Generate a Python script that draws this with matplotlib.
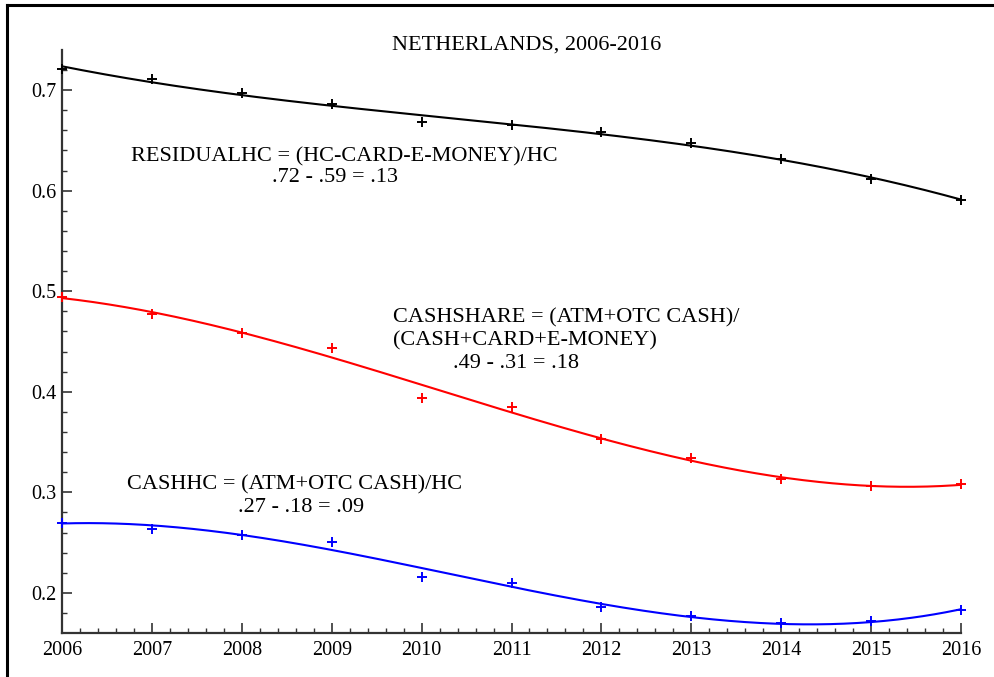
import numpy as np
import matplotlib.pyplot as plt
from matplotlib.lines import Line2D
from matplotlib.ticker import MultipleLocator, FormatStrFormatter

plt.rcParams.update({
    'font.family': ['Liberation Serif', 'DejaVu Serif'],
    'font.size': 15,
})

# Data
years = [2006, 2007, 2008, 2009, 2010, 2011, 2012, 2013, 2014, 2015, 2016]
residual_hc = [0.721, 0.711, 0.697, 0.686, 0.668, 0.665, 0.658, 0.647, 0.631, 0.612, 0.591]
cash_share = [0.494, 0.477, 0.458, 0.444, 0.394, 0.385, 0.353, 0.334, 0.313, 0.306, 0.308]
cash_hc = [0.270, 0.264, 0.258, 0.251, 0.216, 0.210, 0.186, 0.177, 0.170, 0.172, 0.183]

series = [
    (residual_hc, 'black'),
    (cash_share, '#ff0000'),
    (cash_hc, '#0000ff'),
]

fig = plt.figure(figsize=(9.94, 6.77), dpi=100)
ax = fig.add_axes([62 / 994, 44 / 677, (961 - 62) / 994, (633 - 50) / 677])

x = np.array(years, dtype=float)
xs = np.linspace(x[0], x[-1], 400)
for vals, col in series:
    # cubic least-squares fit, as in the original figure
    coef = np.polyfit(x - 2011, vals, 3)
    ax.plot(xs, np.polyval(coef, xs - 2011), color=col, lw=1.5, zorder=2)
    ax.plot(x, vals, '+', color=col, ms=6.5, mew=1.4, zorder=3, clip_on=False)

ax.set_xlim(2006, 2016)
ax.set_ylim(0.1602, 0.7398)

ax.xaxis.set_major_locator(MultipleLocator(1))
ax.xaxis.set_minor_locator(MultipleLocator(0.2))
ax.yaxis.set_major_locator(MultipleLocator(0.1))
ax.yaxis.set_minor_locator(MultipleLocator(0.02))
ax.yaxis.set_major_formatter(FormatStrFormatter('%.1f'))

ax.tick_params(which='both', direction='in', color='#333333', labelsize=14.5)
ax.tick_params(which='major', length=7, width=1.2)
ax.tick_params(which='minor', length=3.5, width=1.0)
ax.tick_params(axis='x', pad=6)
ax.tick_params(axis='y', pad=4)

for side in ['top', 'right']:
    ax.spines[side].set_visible(False)
for side in ['left', 'bottom']:
    ax.spines[side].set_linewidth(1.6)
    ax.spines[side].set_color('#333333')

fs = 16
fig.text(527 / 994, 1 - 45 / 677, 'NETHERLANDS, 2006-2016', ha='center', va='center', fontsize=fs)

fig.text(344 / 994, 1 - 157 / 677, 'RESIDUALHC = (HC-CARD-E-MONEY)/HC', ha='center', va='center', fontsize=fs)
fig.text(335 / 994, 1 - 178 / 677, '.72 - .59 = .13', ha='center', va='center', fontsize=fs)

fig.text(393 / 994, 1 - 318 / 677, 'CASHSHARE = (ATM+OTC CASH)/', ha='left', va='center', fontsize=fs)
fig.text(393 / 994, 1 - 341 / 677, '(CASH+CARD+E-MONEY)', ha='left', va='center', fontsize=fs)
fig.text(453 / 994, 1 - 364 / 677, '.49 - .31 = .18', ha='left', va='center', fontsize=fs)

fig.text(295 / 994, 1 - 485 / 677, 'CASHHC = (ATM+OTC CASH)/HC', ha='center', va='center', fontsize=fs)
fig.text(301 / 994, 1 - 507 / 677, '.27 - .18 = .09', ha='center', va='center', fontsize=fs)

# frame lines on the left and top of the image
fig.add_artist(Line2D([7 / 994, 7 / 994], [0, 1 - 5 / 677], color='black', lw=2.2))
fig.add_artist(Line2D([7 / 994, 1], [1 - 5 / 677, 1 - 5 / 677], color='black', lw=2.2))

fig.savefig('out.png', dpi=100)
